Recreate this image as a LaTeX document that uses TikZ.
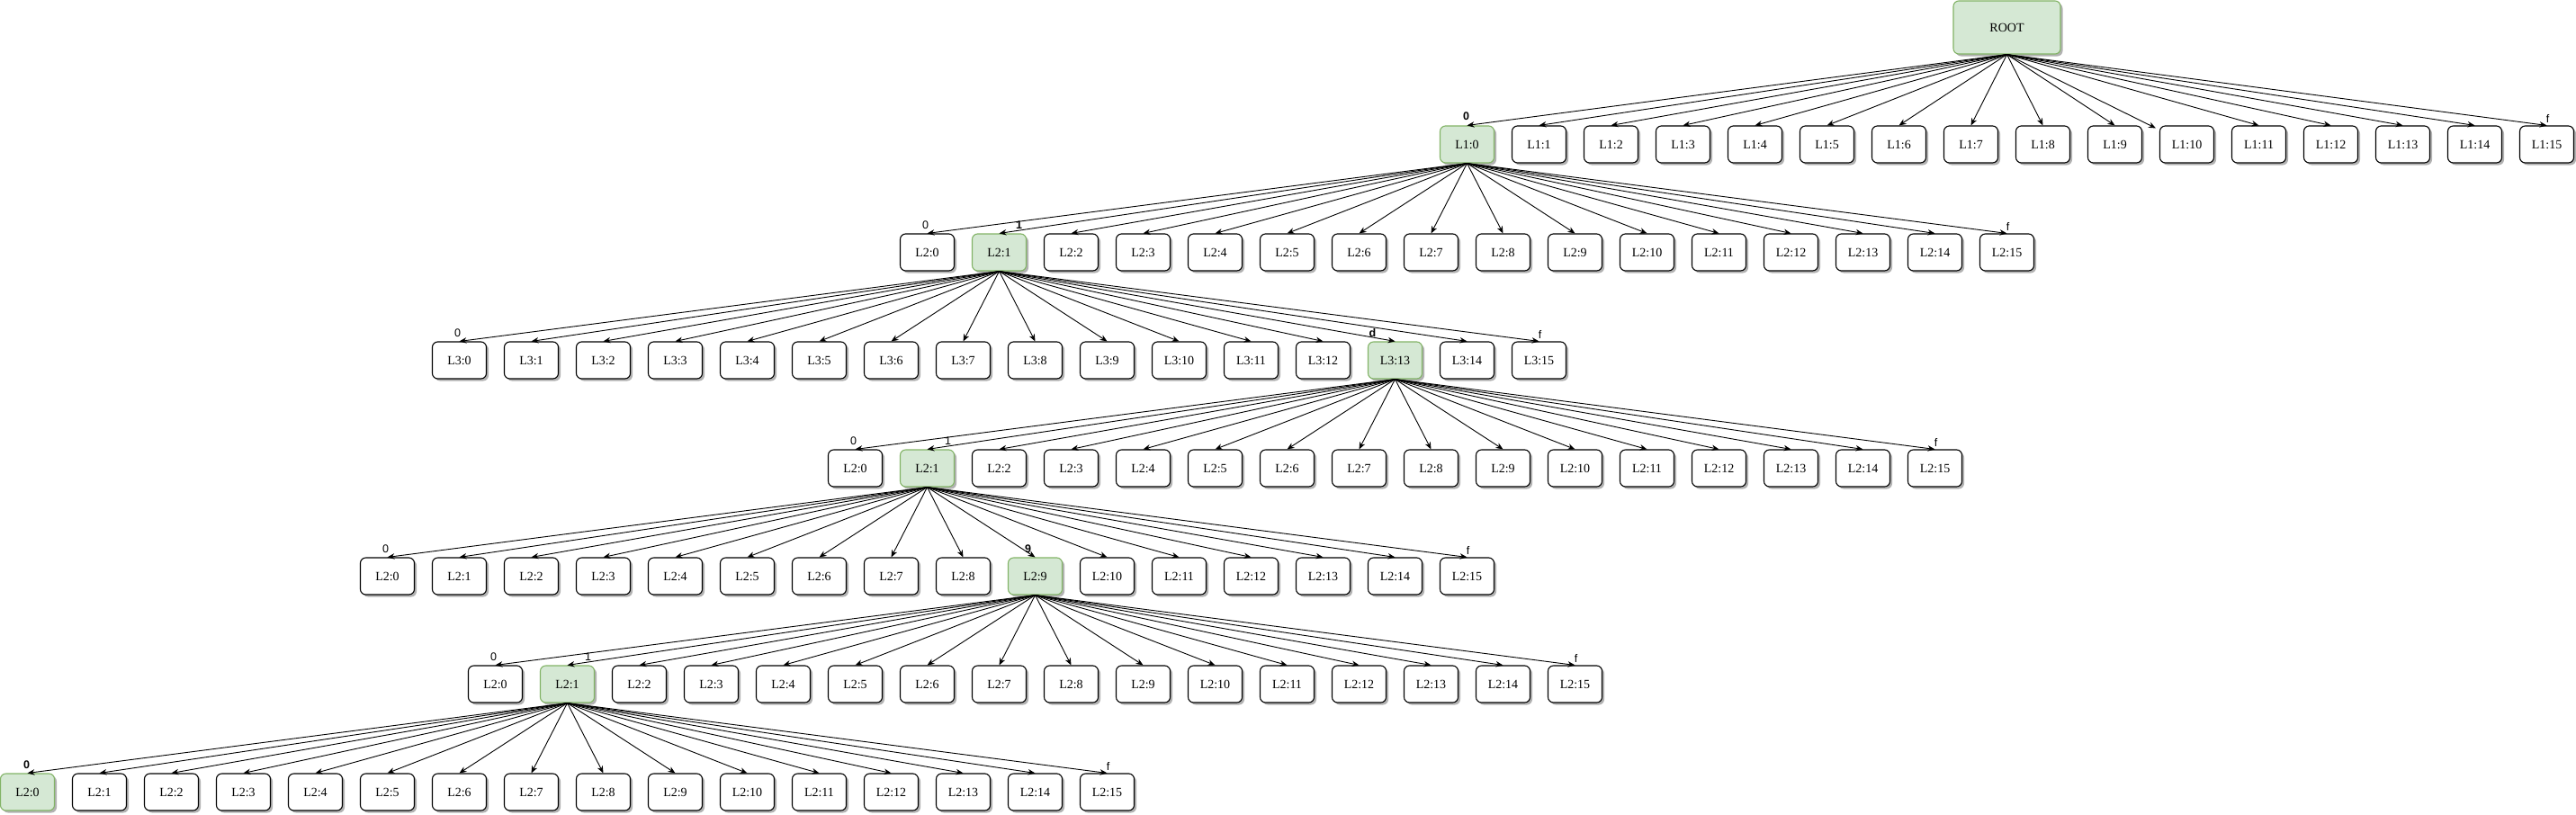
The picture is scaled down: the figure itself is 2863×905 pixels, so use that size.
\documentclass[tikz,border=0pt]{standalone}
\usepackage{fontspec}
\setmainfont{Liberation Serif}
\newfontfamily\lblfont{Liberation Sans}
\usetikzlibrary{arrows.meta,shadows,calc}
\definecolor{gfill}{HTML}{D5E8D4}
\definecolor{gdraw}{HTML}{82B366}
\tikzset{
  box/.style={draw=black, fill=white, rounded corners=6pt, minimum width=60pt, minimum height=41pt, inner sep=0pt, line width=1.1pt, font=\fontsize{14}{16}\selectfont, drop shadow={shadow xshift=2.5pt, shadow yshift=-2.5pt, opacity=0.3, fill=black}},
  sel/.style={box, draw=gdraw, fill=gfill},
  rootbox/.style={sel, minimum width=119pt, minimum height=59pt},
  pick/.code={\ifnum\i=\s\relax\pgfkeysalso{sel}\else\pgfkeysalso{box}\fi},
  arr/.style={-{Stealth[length=8pt,width=6.5pt,inset=2.5pt]}, line width=0.9pt},
  lbl/.style={font=\lblfont\fontsize{12.5}{14}\selectfont, inner sep=0pt, anchor=base},
  blbl/.style={lbl, font=\lblfont\bfseries\fontsize{12.5}{14}\selectfont},
}
\begin{document}
\begin{tikzpicture}[x=1pt,y=-1pt]
\useasboundingbox (0,0) rectangle (2863,905);
\node[rootbox] (root) at (2230.5,30.5) {ROOT};
\foreach \n/\t/\top/\cs/\s in {a/L1/140/20/0, b/L2/260/12.5/1, c/L3/380/6/13, d/L2/500/11.5/1, e/L2/620/5/9, f/L2/740/6.5/1, g/L2/860/0/0}{
  \foreach \i in {0,...,15}{
    \pgfmathsetmacro\cx{80*(\cs+\i)+30.5}
    \node[pick] (\n\i) at (\cx,\top+20.5) {\t:\i};
  }
}
\foreach \i in {0,...,15}{
  \ifnum\i=10\relax
    \draw[arr] (root.south) -- ($(a\i.north west)+(-4,3)$);
  \else
    \draw[arr] (root.south) -- (a\i.north);
  \fi
}
\foreach \p/\n in {a0/b, b1/c, c13/d, d1/e, e9/f, f1/g}{
  \foreach \i in {0,...,15}{
    \draw[arr] (\p.south) -- (\n\i.north);
  }
}
% edge labels
\foreach \n in {b,c,d,e,f}{
  \node[lbl] at ($(\n0.north)+(-2,-5)$) {0};
}
\foreach \n in {a,b,c,d,e,f,g}{
  \node[lbl] at ($(\n15.north)+(1,-3)$) {f};
}
\node[blbl] at ($(a0.north)+(-1,-6)$) {0};
\node[blbl] at ($(b1.north)+(22,-5)$) {1};
\node[blbl] at ($(c13.north)+(-25,-5)$) {d};
\node[lbl] at ($(d1.north)+(23,-5)$) {1};
\node[blbl] at ($(e9.north)+(-8,-5)$) {9};
\node[lbl] at ($(f1.north)+(23,-5)$) {1};
\node[blbl] at ($(g0.north)+(-1,-5)$) {0};
\end{tikzpicture}
\end{document}
